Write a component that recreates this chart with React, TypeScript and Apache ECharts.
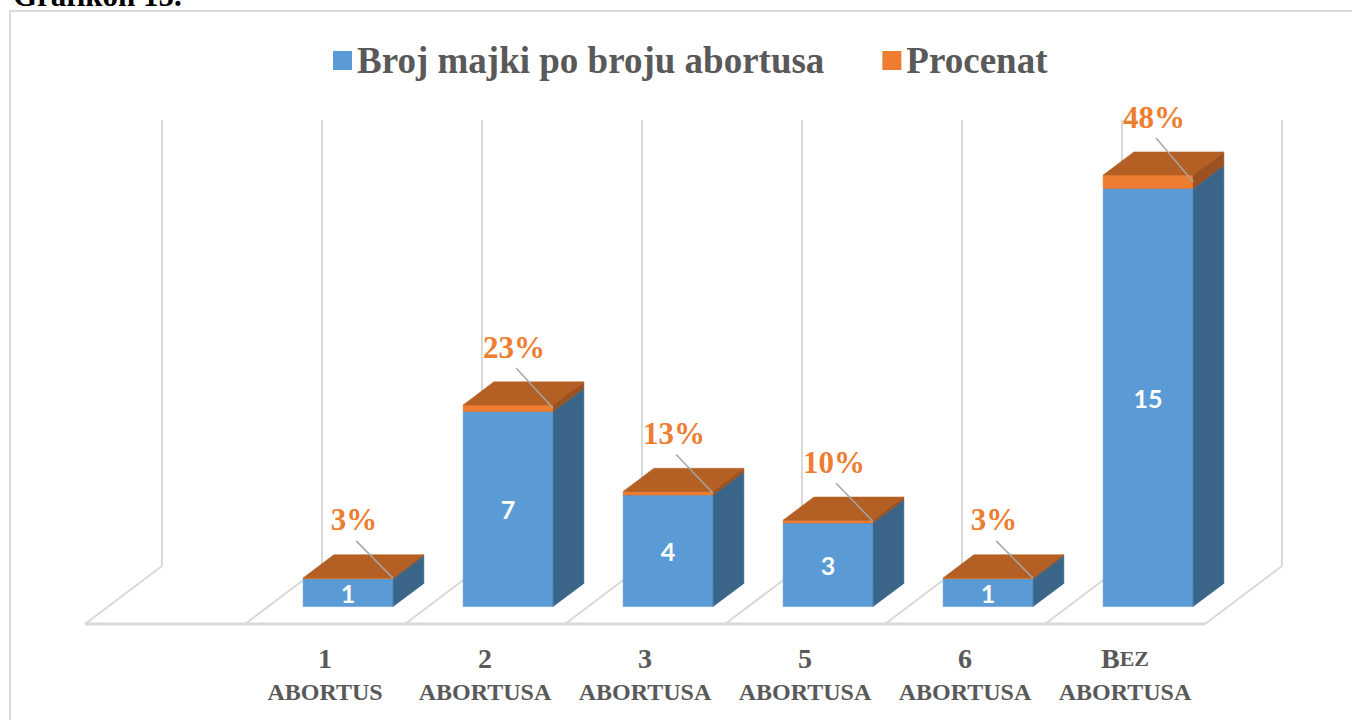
import React, { useEffect, useRef } from "react";
import * as echarts from "echarts";

// ---- data ----
const categories = ["", "1 abortus", "2 abortusa", "3 abortusa", "5 abortusa", "6 abortusa", "Bez abortusa"];
const brojMajki: (number | null)[] = [null, 1, 7, 4, 3, 1, 15];
const procenat: (number | null)[] = [null, 0.03, 0.23, 0.13, 0.1, 0.03, 0.48];
const seriesNames = ["Broj majki po broju abortusa", "Procenat"];
const yMax = 16;

// ---- style ----
const DX = 77;
const DY = -58;
const BAR_FRONT = 0.3;
const BAR_DEPTH = 0.4;
const BAR_W = 0.5625;
const WALL = "#d9d9d9";
const SERIF = "Liberation Serif";
const BLUE = { front: "#5B9BD5", side: "#3A6589", top: "#4A7FAF" };
const ORANGE = { front: "#ED7D31", side: "#9C5121", top: "#B45F23" };

function smallCaps(word: string, big: string, small: string): string {
  let out = "";
  let i = 0;
  while (i < word.length) {
    const ch = word[i];
    const isLower = ch !== ch.toUpperCase();
    let j = i;
    while (j < word.length && (word[j] !== word[j].toUpperCase()) === isLower) j++;
    const chunk = word.slice(i, j);
    out += isLower ? `{${small}|${chunk.toUpperCase()}}` : `{${big}|${chunk}}`;
    i = j;
  }
  return out;
}

function boxShapes(xl: number, xr: number, yBot: number, yTop: number, c: { front: string; side: string; top: string }) {
  const fx = BAR_FRONT * DX, fy = BAR_FRONT * DY;
  const bx = BAR_DEPTH * DX, by = BAR_DEPTH * DY;
  const poly = (pts: number[][], fill: string) => ({
    type: "polygon",
    shape: { points: pts },
    style: { fill, stroke: fill, lineWidth: 0.5 },
  });
  return [
    poly([[xl + fx, yTop + fy], [xr + fx, yTop + fy], [xr + fx, yBot + fy], [xl + fx, yBot + fy]], c.front),
    poly([[xr + fx, yTop + fy], [xr + fx + bx, yTop + fy + by], [xr + fx + bx, yBot + fy + by], [xr + fx, yBot + fy]], c.side),
    poly([[xl + fx, yTop + fy], [xl + fx + bx, yTop + fy + by], [xr + fx + bx, yTop + fy + by], [xr + fx, yTop + fy]], c.top),
  ];
}

export default function App() {
  const ref = useRef<HTMLDivElement>(null);

  useEffect(() => {
    if (!ref.current) return;
    const chart = echarts.init(ref.current, null, { renderer: "svg" });

    const wallData = categories.map((_, i) => [i]);
    const blueData = brojMajki
      .map((v, i) => (v == null ? null : [i, v]))
      .filter((d) => d !== null);
    const orangeData = procenat
      .map((v, i) => (v == null ? null : [i, brojMajki[i] as number, v]))
      .filter((d) => d !== null);
    const last = categories.length - 1;

    const option: any = {
      animation: false,
      graphic: [
        {
          type: "rect",
          z: -10,
          shape: { x: 10, y: 11, width: 1400, height: 800 },
          style: { fill: "none", stroke: WALL, lineWidth: 2 },
        },
        {
          type: "text",
          x: 13,
          y: 11,
          style: {
            text: "Grafikon 15.",
            fontFamily: SERIF,
            fontWeight: "bold",
            fontSize: 31,
            fill: "#000",
            verticalAlign: "bottom",
          },
        },
      ],
      legend: {
        left: 328,
        top: 37,
        itemWidth: 19,
        itemHeight: 19,
        itemGap: 58,
        icon: "rect",
        data: seriesNames,
        selectedMode: false,
        textStyle: { fontFamily: SERIF, fontWeight: "bold", fontSize: 37, color: "#595959" },
      },
      grid: { left: 85, width: 1120, top: 178, height: 446 },
      xAxis: {
        type: "category",
        data: categories,
        axisLine: { show: false },
        axisTick: { show: false },
        splitLine: { show: false },
        axisLabel: {
          interval: 0,
          margin: 17,
          color: "#595959",
          formatter: (val: string) => {
            if (!val) return "";
            const parts = val.split(" ");
            return smallCaps(parts[0], "n", "ns") + "\n" + smallCaps(parts.slice(1).join(" "), "s", "s");
          },
          rich: {
            n: { fontFamily: SERIF, fontWeight: "bold", fontSize: 28, lineHeight: 34, color: "#595959" },
            ns: { fontFamily: SERIF, fontWeight: "bold", fontSize: 22, lineHeight: 34, color: "#595959" },
            s: { fontFamily: SERIF, fontWeight: "bold", fontSize: 24, lineHeight: 34, color: "#595959" },
          },
        },
      },
      yAxis: { type: "value", min: 0, max: yMax, show: false, splitLine: { show: false } },
      series: [
        {
          type: "custom",
          name: "walls",
          silent: true,
          z: 1,
          data: wallData,
          encode: { x: 0 },
          renderItem: (params: any, api: any) => {
            const i = api.value(0);
            const [xc, y0] = api.coord([i, 0]);
            const yTop = api.coord([i, yMax])[1];
            const w = api.size([1, 0])[0];
            const x0 = xc - w / 2;
            const x1 = xc + w / 2;
            const ln = (a: number, b: number, c: number, d: number, lw: number) => ({
              type: "line",
              shape: { x1: a, y1: b, x2: c, y2: d },
              style: { stroke: WALL, lineWidth: lw },
            });
            const ch: any[] = [
              ln(x0, y0, x1, y0, 3),
              ln(x0, y0, x0 + DX, y0 + DY, 2),
              ln(x0 + DX, y0 + DY, x0 + DX, yTop + DY, 2),
            ];
            if (i === last) {
              ch.push(ln(x1, y0, x1 + DX, y0 + DY, 2));
              ch.push(ln(x1 + DX, y0 + DY, x1 + DX, yTop + DY, 2));
            }
            return { type: "group", children: ch };
          },
        },
        {
          type: "custom",
          name: seriesNames[0],
          z: 2,
          itemStyle: { color: BLUE.front },
          data: blueData,
          encode: { x: 0, y: 1 },
          renderItem: (params: any, api: any) => {
            const i = api.value(0);
            const v = api.value(1);
            const [xc, y0] = api.coord([i, 0]);
            const yv = api.coord([i, v])[1];
            const w = api.size([1, 0])[0];
            const xl = xc - (w * BAR_W) / 2;
            const xr = xc + (w * BAR_W) / 2;
            const fx = BAR_FRONT * DX, fy = BAR_FRONT * DY;
            return {
              type: "group",
              children: [
                ...boxShapes(xl, xr, y0, yv, BLUE),
                {
                  type: "text",
                  x: xc + fx,
                  y: (y0 + yv) / 2 + fy,
                  style: {
                    text: String(v),
                    fontFamily: "Lato",
                    fontWeight: "bold",
                    fontSize: 25,
                    fill: "#ffffff",
                    align: "center",
                    verticalAlign: "middle",
                  },
                },
              ],
            };
          },
        },
        {
          type: "custom",
          name: seriesNames[1],
          z: 3,
          itemStyle: { color: ORANGE.front },
          data: orangeData,
          encode: { x: 0, y: 2 },
          renderItem: (params: any, api: any) => {
            const i = api.value(0);
            const base = api.value(1);
            const v = api.value(2);
            const xc = api.coord([i, 0])[0];
            const yb = api.coord([i, base])[1];
            const yo = api.coord([i, base + v])[1];
            const w = api.size([1, 0])[0];
            const xl = xc - (w * BAR_W) / 2;
            const xr = xc + (w * BAR_W) / 2;
            const fx = BAR_FRONT * DX, fy = BAR_FRONT * DY;
            const lx = xc + fx + 6;
            const ly = yo + fy - 58;
            return {
              type: "group",
              children: [
                ...boxShapes(xl, xr, yb, yo, ORANGE),
                {
                  type: "line",
                  shape: { x1: lx + 2, y1: ly + 21, x2: xr + fx, y2: (yo + yb) / 2 + fy },
                  style: { stroke: "#a6a6a6", lineWidth: 1.5 },
                },
                {
                  type: "text",
                  x: lx,
                  y: ly,
                  style: {
                    text: Math.round(v * 100) + "%",
                    fontFamily: SERIF,
                    fontWeight: "bold",
                    fontSize: 31,
                    fill: "#ED7D31",
                    align: "center",
                    verticalAlign: "middle",
                  },
                },
              ],
            };
          },
        },
      ],
    };

    chart.setOption(option);
    return () => chart.dispose();
  }, []);

  return (
    <div
      ref={ref}
      style={{ position: "fixed", left: 0, top: 0, width: 1352, height: 720, background: "#ffffff" }}
    />
  );
}
